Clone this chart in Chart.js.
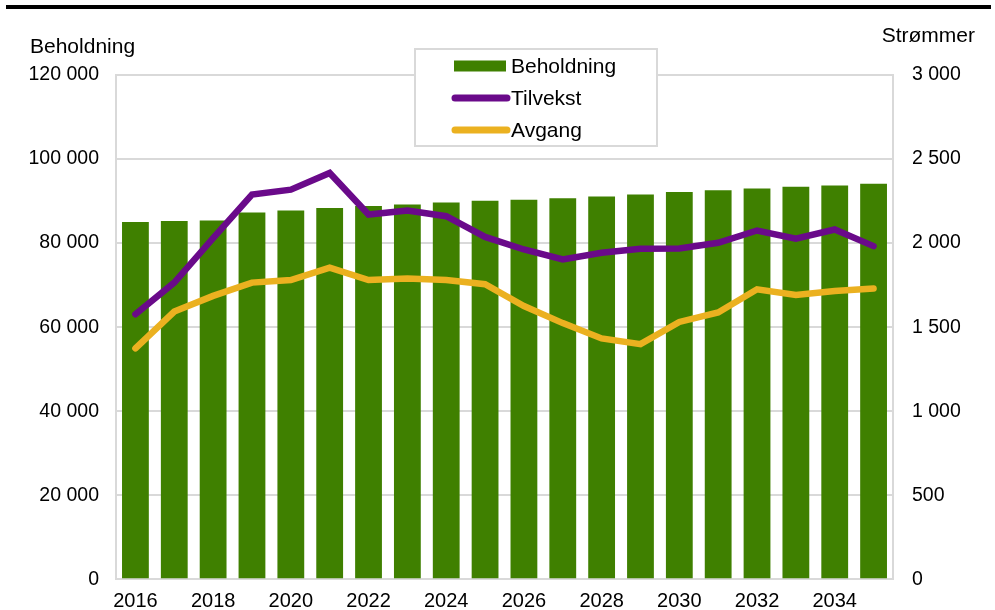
<!DOCTYPE html>
<html>
<head>
<meta charset="utf-8">
<script src="https://cdn.jsdelivr.net/npm/chart.js@4/dist/chart.umd.min.js"></script>
<style>
  html, body { margin: 0; padding: 0; background: #fff; }
  #wrap { position: relative; width: 995px; height: 610px; }
</style>
</head>
<body>
<div id="wrap"><canvas id="c" width="995" height="610"></canvas></div>
<script>
const years = ['2016','2017','2018','2019','2020','2021','2022','2023','2024','2025',
               '2026','2027','2028','2029','2030','2031','2032','2033','2034','2035'];
const beholdning = [85000, 85240, 85400, 87300, 87780, 88330, 88800, 89200, 89680, 90070,
                    90300, 90700, 91100, 91580, 92130, 92600, 93000, 93400, 93700, 94100];
const tilvekst = [1577, 1765, 2030, 2289, 2318, 2417, 2170, 2194, 2160, 2037,
                  1962, 1903, 1943, 1967, 1968, 2002, 2075, 2026, 2081, 1982];
const avgang = [1374, 1593, 1686, 1765, 1780, 1854, 1780, 1789, 1780, 1755,
                1626, 1524, 1433, 1399, 1531, 1587, 1725, 1692, 1715, 1730];
const leftTicks = [0, 20000, 40000, 60000, 80000, 100000, 120000];
const rightTicks = [0, 500, 1000, 1500, 2000, 2500, 3000];
const leftTitle = 'Beholdning';
const rightTitle = 'Strømmer';

const GREEN = '#3f8000';
const PURPLE = '#6a0a8a';
const YELLOW = '#ebb120';
const GRID = '#d9d9d9';
const FONT = '"Liberation Sans", Arial, sans-serif';

function fmt(v) {
  return String(v).replace(/\B(?=(\d{3})+(?!\d))/g, ' ');
}

const decor = {
  id: 'decor',
  afterDraw(chart) {
    const ctx = chart.ctx;
    ctx.save();
    // top rule
    ctx.fillStyle = '#000';
    ctx.fillRect(6, 5, 985, 4);
    // axis titles
    ctx.font = '21px ' + FONT;
    ctx.fillStyle = '#000';
    ctx.textBaseline = 'middle';
    ctx.textAlign = 'left';
    ctx.fillText(leftTitle, 30, 47);
    ctx.textAlign = 'right';
    ctx.fillText(rightTitle, 975, 36);
    // legend
    const bx = 415, by = 49, bw = 242, bh = 97;
    ctx.fillStyle = '#fff';
    ctx.fillRect(bx, by, bw, bh);
    ctx.strokeStyle = GRID;
    ctx.lineWidth = 2;
    ctx.strokeRect(bx, by, bw, bh);
    const ds = chart.data.datasets;
    const rows = [66, 98, 130];
    ds.forEach((d, i) => {
      const y = rows[i];
      if (d.type === 'bar') {
        ctx.fillStyle = d.backgroundColor;
        ctx.fillRect(454, y - 5.5, 52, 11);
      } else {
        ctx.strokeStyle = d.borderColor;
        ctx.lineWidth = 7;
        ctx.lineCap = 'round';
        ctx.beginPath();
        ctx.moveTo(455, y);
        ctx.lineTo(507, y);
        ctx.stroke();
      }
      ctx.fillStyle = '#000';
      ctx.textAlign = 'left';
      ctx.textBaseline = 'middle';
      ctx.font = '21px ' + FONT;
      ctx.fillText(d.label, 511, y + 1);
    });
    ctx.restore();
  }
};

new Chart(document.getElementById('c'), {
  data: {
    labels: years,
    datasets: [
      { type: 'bar', label: 'Beholdning', data: beholdning, yAxisID: 'y',
        backgroundColor: GREEN, borderWidth: 0, barPercentage: 0.69, categoryPercentage: 1.0, order: 3 },
      { type: 'line', label: 'Tilvekst', data: tilvekst, yAxisID: 'y1',
        borderColor: PURPLE, backgroundColor: PURPLE, borderWidth: 6.5, pointRadius: 0,
        tension: 0, borderCapStyle: 'round', borderJoinStyle: 'miter', order: 1 },
      { type: 'line', label: 'Avgang', data: avgang, yAxisID: 'y1',
        borderColor: YELLOW, backgroundColor: YELLOW, borderWidth: 6.5, pointRadius: 0,
        tension: 0, borderCapStyle: 'round', borderJoinStyle: 'miter', order: 2 }
    ]
  },
  options: {
    responsive: false,
    animation: false,
    devicePixelRatio: 1,
    layout: { padding: { top: 75, left: 0, right: 0, bottom: 0 } },
    plugins: { legend: { display: false }, tooltip: { enabled: false } },
    scales: {
      x: {
        offset: true,
        grid: { display: false, drawTicks: false },
        border: { display: true, color: GRID, width: 2 },
        ticks: {
          autoSkip: false, maxRotation: 0, minRotation: 0, padding: 10,
          color: '#000', font: { family: FONT, size: 20 },
          callback: (v, i) => (i % 2 === 0 ? years[i] : '')
        },
        afterFit: s => { s.height = 29; }
      },
      y: {
        position: 'left', min: 0, max: 120000,
        afterBuildTicks: s => { s.ticks = leftTicks.map(v => ({ value: v })); },
        grid: { color: GRID, lineWidth: 2, drawTicks: false },
        border: { display: true, color: GRID, width: 2 },
        ticks: { padding: 17, color: '#000', font: { family: FONT, size: 19.5 }, callback: v => fmt(v) },
        afterFit: s => { s.width = 116; }
      },
      y1: {
        position: 'right', min: 0, max: 3000,
        afterBuildTicks: s => { s.ticks = rightTicks.map(v => ({ value: v })); },
        grid: { display: false, drawTicks: false },
        border: { display: true, color: GRID, width: 2 },
        ticks: { padding: 19, color: '#000', font: { family: FONT, size: 19.5 }, callback: v => fmt(v) },
        afterFit: s => { s.width = 102; }
      }
    }
  },
  plugins: [decor]
});
</script>
</body>
</html>
